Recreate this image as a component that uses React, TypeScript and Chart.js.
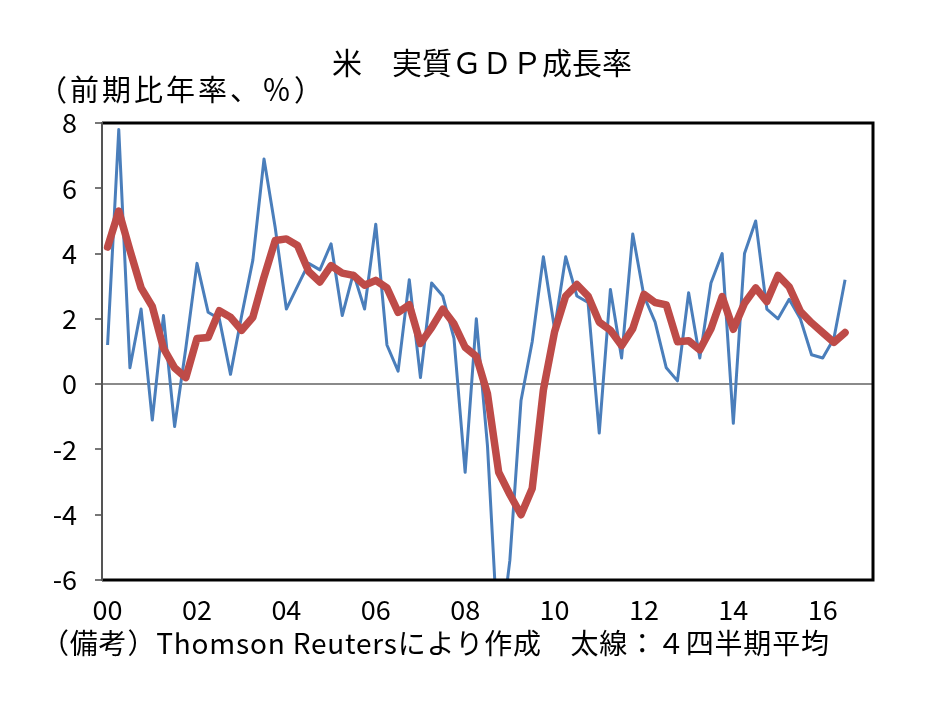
import React, { useEffect, useRef } from 'react';
import { Chart, registerables } from 'chart.js';

Chart.register(...registerables);

// Categories: quarters 2000Q1 .. 2017Q1
const yearCodes = ['00', '01', '02', '03', '04', '05', '06', '07', '08', '09', '10', '11', '12', '13', '14', '15', '16'];
const categories: string[] = [];
yearCodes.forEach((y) => ['Q1', 'Q2', 'Q3', 'Q4'].forEach((q) => categories.push(y + q)));
categories.push('17Q1');

const xTickYears = ['00', '02', '04', '06', '08', '10', '12', '14', '16'];
const yTickValues = [-6, -4, -2, 0, 2, 4, 6, 8];

// Thin line: quarter-on-quarter annualised real GDP growth (%)
const quarterlyGrowth = [
  1.2, 7.8, 0.5, 2.3,
  -1.1, 2.1, -1.3, 1.1,
  3.7, 2.2, 2.0, 0.3,
  2.1, 3.8, 6.9, 4.8,
  2.3, 3.0, 3.7, 3.5,
  4.3, 2.1, 3.4, 2.3,
  4.9, 1.2, 0.4, 3.2,
  0.2, 3.1, 2.7, 1.4,
  -2.7, 2.0, -1.9, -8.2,
  -5.4, -0.5, 1.3, 3.9,
  1.7, 3.9, 2.7, 2.5,
  -1.5, 2.9, 0.8, 4.6,
  2.7, 1.9, 0.5, 0.1,
  2.8, 0.8, 3.1, 4.0,
  -1.2, 4.0, 5.0, 2.3,
  2.0, 2.6, 2.0, 0.9,
  0.8, 1.4, 3.2,
];

// Thick line: 4-quarter average (%)
const fourQuarterAvg = [
  4.2, 5.3, 4.1, 2.95,
  2.38, 1.1, 0.5, 0.2,
  1.4, 1.43, 2.25, 2.05,
  1.65, 2.05, 3.28, 4.4,
  4.45, 4.25, 3.45, 3.13,
  3.63, 3.4, 3.33, 3.03,
  3.18, 2.95, 2.2, 2.43,
  1.25, 1.73, 2.3, 1.85,
  1.13, 0.85, -0.3, -2.7,
  -3.38, -4.0, -3.2, -0.18,
  1.6, 2.7, 3.05, 2.7,
  1.9, 1.65, 1.18, 1.7,
  2.75, 2.5, 2.43, 1.3,
  1.33, 1.05, 1.7, 2.68,
  1.68, 2.48, 2.95, 2.53,
  3.33, 2.98, 2.23, 1.88,
  1.58, 1.28, 1.58,
];

const titleText = '米　実質ＧＤＰ成長率';
const unitText = '（前期比年率、％）';
const noteText = '（備考）Thomson Reutersにより作成　太線：４四半期平均';

const FONT = "'Noto Sans CJK JP', 'Noto Sans', sans-serif";

const overlayPlugin = {
  id: 'overlay',
  afterDatasetsDraw(chart: any) {
    const { ctx, chartArea: a } = chart;
    ctx.save();
    ctx.strokeStyle = '#000';
    ctx.lineWidth = 3;
    ctx.lineJoin = 'miter';
    ctx.beginPath();
    ctx.moveTo(a.left, a.top);
    ctx.lineTo(a.right, a.top);
    ctx.lineTo(a.right, a.bottom);
    ctx.lineTo(a.left, a.bottom);
    ctx.stroke();
    ctx.strokeStyle = '#555';
    ctx.lineWidth = 2;
    ctx.beginPath();
    ctx.moveTo(a.left, a.top - 1);
    ctx.lineTo(a.left, a.bottom + 1);
    ctx.stroke();
    ctx.restore();
  },
  afterDraw(chart: any) {
    const { ctx } = chart;
    ctx.save();
    ctx.fillStyle = '#000';
    ctx.textBaseline = 'middle';
    ctx.font = `30px ${FONT}`;
    ctx.textAlign = 'center';
    ctx.fillText(titleText, 482, 63);
    ctx.textAlign = 'left';
    ctx.font = `29px ${FONT}`;
    (ctx as any).letterSpacing = '3px';
    ctx.fillText(unitText, 38, 90);
    ctx.font = `28px ${FONT}`;
    (ctx as any).letterSpacing = '0.8px';
    ctx.fillText(noteText, 41, 643);
    (ctx as any).letterSpacing = '0px';
    ctx.restore();
  },
};

export default function App() {
  const canvasRef = useRef<HTMLCanvasElement | null>(null);

  useEffect(() => {
    if (!canvasRef.current) return;
    const chart = new Chart(canvasRef.current, {
      type: 'line',
      data: {
        labels: categories,
        datasets: [
          {
            label: '4四半期平均',
            data: fourQuarterAvg,
            borderColor: '#BE4B48',
            borderWidth: 7.5,
            pointRadius: 0,
            tension: 0,
            borderJoinStyle: 'round',
            borderCapStyle: 'round',
            clip: 0,
            order: 0,
          },
          {
            label: '前期比年率',
            data: quarterlyGrowth,
            borderColor: '#4A7EBB',
            borderWidth: 3,
            pointRadius: 0,
            tension: 0,
            borderJoinStyle: 'round',
            clip: 0,
            order: 1,
          },
        ],
      },
      options: {
        responsive: false,
        animation: false,
        layout: { padding: { top: 123, right: 61, bottom: 0, left: 0 } },
        plugins: {
          legend: { display: false },
          tooltip: { enabled: false },
          title: { display: false },
        },
        scales: {
          x: {
            type: 'category',
            offset: true,
            grid: { display: false, drawTicks: false },
            border: { display: false },
            ticks: {
              autoSkip: false,
              maxRotation: 0,
              minRotation: 0,
              padding: 14,
              color: '#000',
              font: { family: FONT, size: 27 },
              callback: (_v: any, index: number) => {
                const c = categories[index];
                const y = c.slice(0, 2);
                return c.endsWith('Q1') && xTickYears.includes(y) ? y : '';
              },
            },
            afterFit: (scale: any) => {
              scale.height = 121;
            },
          },
          y: {
            min: -6,
            max: 8,
            afterBuildTicks: (scale: any) => {
              scale.ticks = yTickValues.map((v) => ({ value: v }));
            },
            grid: {
              drawOnChartArea: true,
              color: (ctx: any) => (ctx.tick && ctx.tick.value === 0 ? '#8a8a8a' : 'rgba(0,0,0,0)'),
              lineWidth: 2,
              tickColor: '#777',
              tickLength: 7,
              tickWidth: 2,
            },
            border: { display: false },
            ticks: {
              padding: 18,
              color: '#000',
              font: { family: FONT, size: 27 },
            },
            afterFit: (scale: any) => {
              scale.width = 102;
            },
          },
        },
      },
      plugins: [overlayPlugin],
    });
    return () => chart.destroy();
  }, []);

  return (
    <canvas
      ref={canvasRef}
      width={934}
      height={701}
      style={{ position: 'absolute', left: 0, top: 0, width: 934, height: 701, background: '#fff' }}
    />
  );
}
